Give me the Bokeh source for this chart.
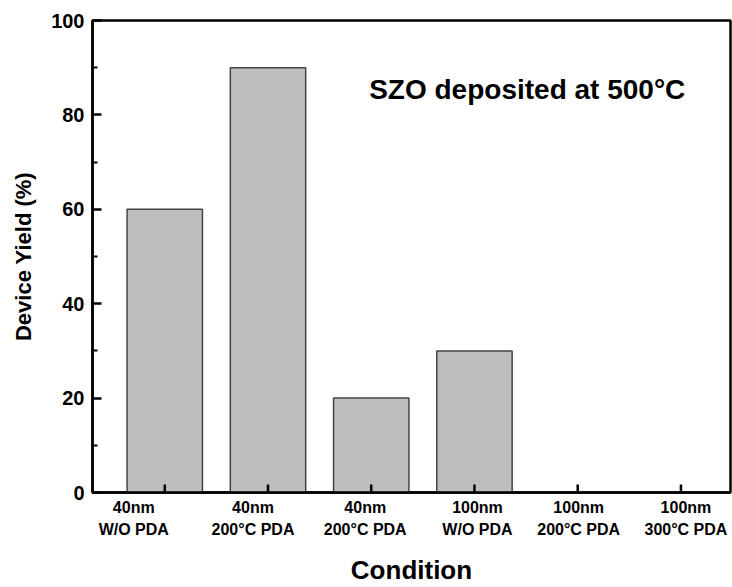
from bokeh.plotting import figure
from bokeh.models import (Range1d, FixedTicker, Label, ColumnDataSource,
                          CustomJSTickFormatter)
from bokeh.embed import file_html
from bokeh.resources import INLINE

# ---- data ----
positions = [1, 2, 3, 4, 5, 6]
label_line1 = ["40nm", "40nm", "40nm", "100nm", "100nm", "100nm"]
label_line2 = ["W/O PDA", "200°C PDA", "200°C PDA", "W/O PDA", "200°C PDA", "300°C PDA"]
device_yield = [60, 90, 20, 30, 0, 0]
y_major = [0, 20, 40, 60, 80, 100]
y_minor = [10, 30, 50, 70, 90]

# pixel nudges of the category captions (as placed in the original figure)
caption_nudge = [-31, -15, -6, 3, 1, 5]

FONT = "Liberation Sans"
X0, X1 = 0.3, 6.48
Y0, Y1 = 0, 100
W, H = 732, 587
BL, BR, BT, BB = 92, 2, 20, 94
TICK_PX = 8

p = figure(width=W, height=H,
           x_range=Range1d(X0, X1), y_range=Range1d(Y0, Y1),
           output_backend="svg", toolbar_location=None,
           min_border_left=BL, min_border_right=BR,
           min_border_top=BT, min_border_bottom=BB)

p.background_fill_color = "white"
p.border_fill_color = "white"
p.outline_line_color = "black"
p.outline_line_width = 2.5
p.xgrid.visible = False
p.ygrid.visible = False

src = ColumnDataSource(dict(x=positions, top=device_yield))
p.vbar(x="x", top="top", bottom=0, width=0.73, source=src,
       fill_color="#bebebe", line_color="#444444", line_width=1.5)

# inward x tick marks at the category positions
tick_len = TICK_PX * (Y1 - Y0) / (H - BT - BB)
p.segment(x0=positions, y0=[Y0] * len(positions),
          x1=positions, y1=[Y0 + tick_len] * len(positions),
          line_color="black", line_width=2.5)

# y axis
ya = p.yaxis[0]
ya.ticker = FixedTicker(ticks=y_major, minor_ticks=y_minor)
ya.axis_line_width = 2.5
ya.axis_line_color = "black"
ya.major_tick_in = 9
ya.major_tick_out = 0
ya.minor_tick_in = 5
ya.minor_tick_out = 0
ya.major_tick_line_width = 2.5
ya.minor_tick_line_width = 2
ya.major_label_text_font = FONT
ya.major_label_text_font_style = "bold"
ya.major_label_text_font_size = "20px"
ya.major_label_text_color = "black"
ya.major_label_standoff = 8
ya.axis_label = "Device Yield (%)"
ya.axis_label_text_font = FONT
ya.axis_label_text_font_style = "bold"
ya.axis_label_text_font_size = "22px"
ya.axis_label_text_color = "black"
ya.axis_label_standoff = 12

# x axis: two-line category captions + axis title
px_per_unit = (W - BL - BR) / (X1 - X0)
caption_ticks = [x + dx / px_per_unit for x, dx in zip(positions, caption_nudge)]
captions = [a + "\n" + b for a, b in zip(label_line1, label_line2)]

fmt = CustomJSTickFormatter(args=dict(cpos=caption_ticks, ctext=captions), code="""
    let best = 0, bd = 1e9;
    for (let i = 0; i < cpos.length; i++) {
        const d = Math.abs(tick - cpos[i]);
        if (d < bd) { bd = d; best = i; }
    }
    return ctext[best];
""")

xa = p.xaxis[0]
xa.ticker = FixedTicker(ticks=caption_ticks, minor_ticks=[])
xa.formatter = fmt
xa.axis_line_width = 2.5
xa.axis_line_color = "black"
xa.major_tick_line_color = None
xa.minor_tick_line_color = None
xa.major_tick_in = 0
xa.major_tick_out = 0
xa.minor_tick_in = 0
xa.minor_tick_out = 0
xa.major_label_standoff = 6
xa.major_label_text_font = FONT
xa.major_label_text_font_style = "bold"
xa.major_label_text_font_size = "16px"
xa.major_label_text_color = "black"
xa.major_label_text_line_height = 1.3
xa.axis_label = "Condition"
xa.axis_label_text_font = FONT
xa.axis_label_text_font_style = "bold"
xa.axis_label_text_font_size = "26px"
xa.axis_label_text_color = "black"
xa.axis_label_standoff = 14

p.add_layout(Label(x=2.98, y=85.4, text="SZO deposited at 500°C",
                   text_align="left", text_baseline="alphabetic",
                   text_font=FONT, text_font_style="bold",
                   text_font_size="28px", text_color="black"))

open("out.html", "w").write(file_html(p, INLINE))
